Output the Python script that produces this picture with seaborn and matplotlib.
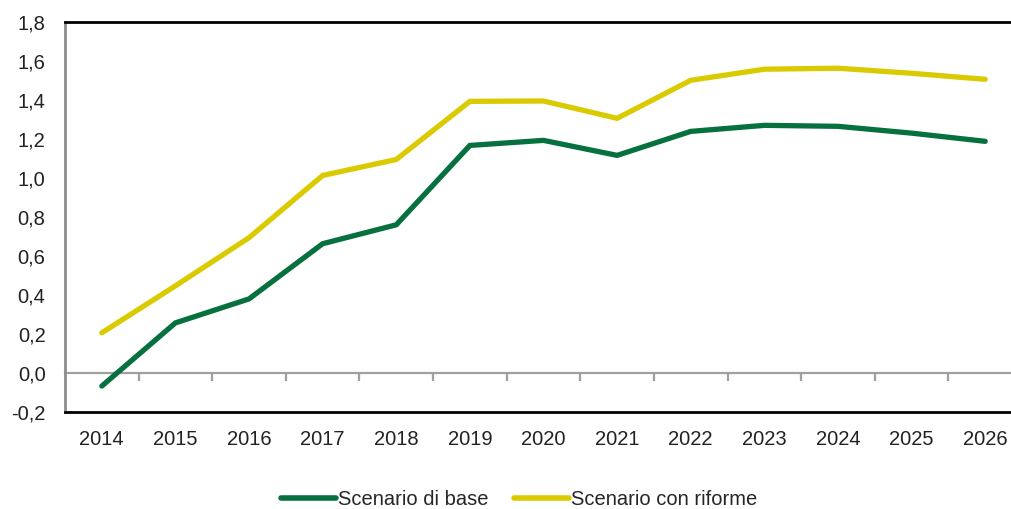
import matplotlib
matplotlib.use("Agg")
import matplotlib.pyplot as plt
import seaborn as sns
import pandas as pd
import numpy as np
from matplotlib.ticker import FixedLocator, FuncFormatter

years = ["2014", "2015", "2016", "2017", "2018", "2019", "2020",
         "2021", "2022", "2023", "2024", "2025", "2026"]
base = [-0.067, 0.257, 0.38, 0.663, 0.76, 1.167, 1.193, 1.116, 1.239, 1.27, 1.265, 1.23, 1.188]
riforme = [0.206, 0.447, 0.694, 1.013, 1.095, 1.393, 1.395, 1.306, 1.501, 1.558, 1.563, 1.537, 1.506]
series_names = ["Scenario di base", "Scenario con riforme"]
colors = ["#07703F", "#D9CB00"]

sns.set_style("white")
plt.rcParams["font.family"] = ["Liberation Sans", "DejaVu Sans"]

df = pd.DataFrame({
    "x": list(range(len(years))) * 2,
    "value": base + riforme,
    "serie": [series_names[0]] * len(years) + [series_names[1]] * len(years),
})

fig = plt.figure(figsize=(10.12, 5.09), dpi=100)
W, H = 1012, 509
left, right, top, bottom = 65, 1022, 22, 412
ax = fig.add_axes([left / W, 1 - bottom / H, (right - left) / W, (bottom - top) / H])

sns.lineplot(data=df, x="x", y="value", hue="serie", palette=colors,
             linewidth=3.8, ax=ax, legend=True, solid_capstyle="round",
             solid_joinstyle="miter")

ax.set_xlim(-0.5, len(years) - 0.5)
ax.set_ylim(-0.2, 1.8)
ax.set_xticks(range(len(years)))
ax.set_xticklabels(years)
ax.set_xlabel("")
ax.set_ylabel("")
ax.tick_params(axis="x", length=0, pad=13, labelsize=14.5, colors="#222222")
yt = np.round(np.arange(-0.2, 1.81, 0.2), 1)
ax.set_yticks(yt)
ax.yaxis.set_major_formatter(FuncFormatter(lambda v, p: f"{v:.1f}".replace(".", ",").replace("-0,0", "0,0")))
ax.tick_params(axis="y", direction="in", length=4, width=1.2, color="#8c8c8c",
               labelsize=14.5, pad=14, labelcolor="#222222")

ax.spines["right"].set_visible(False)
ax.spines["top"].set_color("black")
ax.spines["top"].set_linewidth(2)
ax.spines["bottom"].set_color("black")
ax.spines["bottom"].set_linewidth(2)
ax.spines["left"].set_color("#8c8c8c")
ax.spines["left"].set_linewidth(2)

# zero line with category boundary ticks
sec = ax.secondary_xaxis(0.1)
sec.spines["bottom"].set_color("#a0a0a0")
sec.spines["bottom"].set_linewidth(1.6)
sec.xaxis.set_major_locator(FixedLocator(np.arange(0.5, len(years) - 0.5, 1)))
sec.tick_params(axis="x", direction="out", length=6, width=1.6, color="#a0a0a0",
                labelbottom=False)

handles, labels = ax.get_legend_handles_labels()
ax.legend(handles, labels, loc="upper center", bbox_to_anchor=(0.4744, -0.163),
          ncol=2, frameon=False, fontsize=14.5, handlelength=2.7, handletextpad=0.1,
          columnspacing=1.3, borderaxespad=0.3)
for lh in ax.get_legend().get_lines():
    lh.set_linewidth(4)

fig.savefig("out.png", dpi=100)
